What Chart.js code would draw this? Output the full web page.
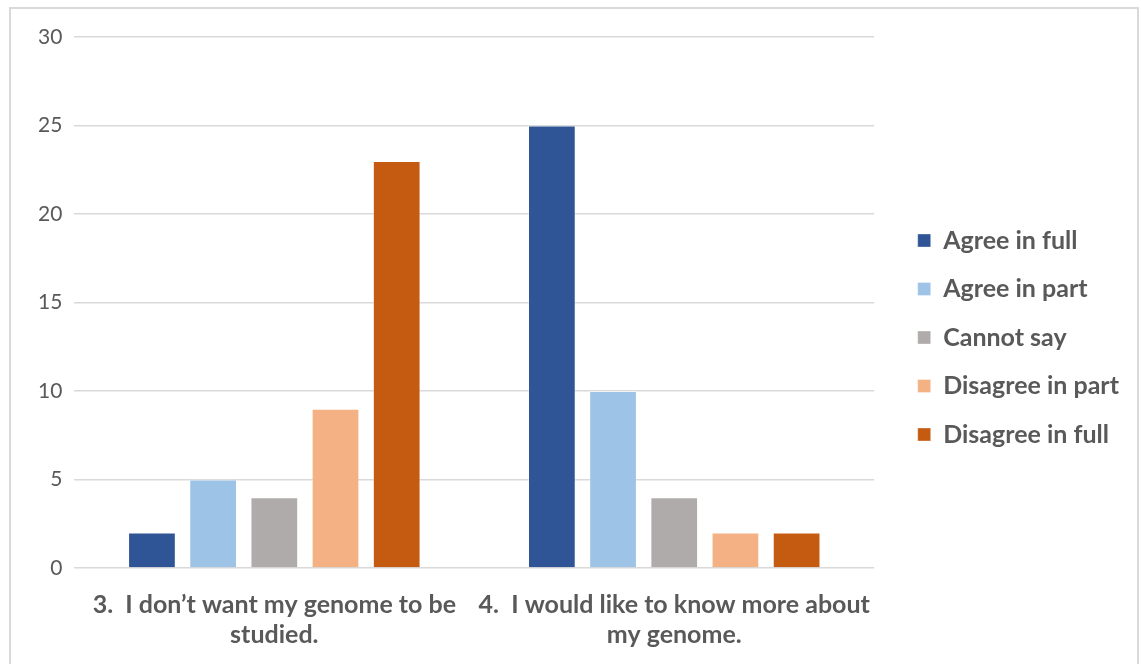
<!DOCTYPE html>
<html>
<head>
<meta charset="utf-8">
<script src="https://cdn.jsdelivr.net/npm/chart.js@4.4.1/dist/chart.umd.min.js"></script>
<style>
  html, body { margin: 0; padding: 0; background: #ffffff; overflow: hidden; }
  #frame {
    position: absolute; left: 9px; top: 7px; width: 1130px; height: 660px;
    border: 2px solid #d9d9d9; box-sizing: border-box; background: #fff;
  }
  #wrap { position: absolute; left: 0; top: 0; width: 1141px; height: 664px; }
</style>
</head>
<body>
<div id="frame"></div>
<div id="wrap"><canvas id="chart" width="1141" height="664"></canvas></div>
<script>
// Survey statements on the x axis
const categories = [
  ["3.  I don\u2019t want my genome to be", "studied."],
  ["4.  I would like to know more about", "my genome."]
];

// Response counts per answer option
const agreeInFull     = [2, 25];
const agreeInPart     = [5, 10];
const cannotSay       = [4, 4];
const disagreeInPart  = [9, 2];
const disagreeInFull  = [23, 2];

const seriesNames  = ["Agree in full", "Agree in part", "Cannot say", "Disagree in part", "Disagree in full"];
const seriesValues = [agreeInFull, agreeInPart, cannotSay, disagreeInPart, disagreeInFull];
const seriesColors = ["#2F5597", "#9DC3E6", "#AFABAB", "#F4B183", "#C55A11"];

const yTicks = [0, 5, 10, 15, 20, 25, 30];

const textColor = "#595959";
const fontFamily = "Lato, 'Open Sans', 'Liberation Sans', sans-serif";

// Extra gap between the plot area and the legend entries, and a vertical nudge
const LEGEND_GAP = 20;
const LEGEND_DY = -13;
const legendGap = {
  id: "legendGap",
  afterInit(chart) {
    const legend = chart.legend;
    if (!legend) return;
    const fit = legend.fit.bind(legend);
    legend.fit = function () { fit(); this.width += LEGEND_GAP; };
    const draw = legend.draw.bind(legend);
    legend.draw = function () {
      const l = this.left, t = this.top, b = this.bottom;
      this.left = l + LEGEND_GAP;
      this.top = t + LEGEND_DY;
      this.bottom = b + LEGEND_DY;
      draw();
      this.left = l; this.top = t; this.bottom = b;
    };
  }
};

new Chart(document.getElementById("chart"), {
  type: "bar",
  data: {
    labels: categories,
    datasets: seriesNames.map((name, i) => ({
      label: name,
      data: seriesValues[i],
      backgroundColor: seriesColors[i],
      borderColor: "rgba(255,255,255,0.35)",
      borderWidth: 1,
      barPercentage: 0.78,
      categoryPercentage: 0.765
    }))
  },
  plugins: [legendGap],
  options: {
    responsive: false,
    animation: false,
    devicePixelRatio: 1,
    layout: { padding: { top: 37, left: 26, right: 12, bottom: 0 } },
    plugins: {
      tooltip: { enabled: false },
      legend: {
        position: "right",
        align: "center",
        labels: {
          boxWidth: 13,
          boxHeight: 13,
          padding: 23.5,
          color: textColor,
          font: { family: fontFamily, size: 25, weight: "bold" }
        }
      }
    },
    scales: {
      x: {
        grid: { display: false },
        border: { display: false },
        ticks: {
          color: textColor,
          padding: 14,
          maxRotation: 0,
          autoSkip: false,
          font: { family: fontFamily, size: 25, weight: "bold", lineHeight: 1.2 }
        }
      },
      y: {
        min: 0,
        max: 30,
        afterBuildTicks: (axis) => { axis.ticks = yTicks.map(v => ({ value: v })); },
        grid: { color: "#d9d9d9", lineWidth: 1.5, drawTicks: false },
        border: { display: false },
        ticks: {
          color: textColor,
          padding: 12,
          font: { family: fontFamily, size: 21 }
        }
      }
    }
  }
});
</script>
</body>
</html>
